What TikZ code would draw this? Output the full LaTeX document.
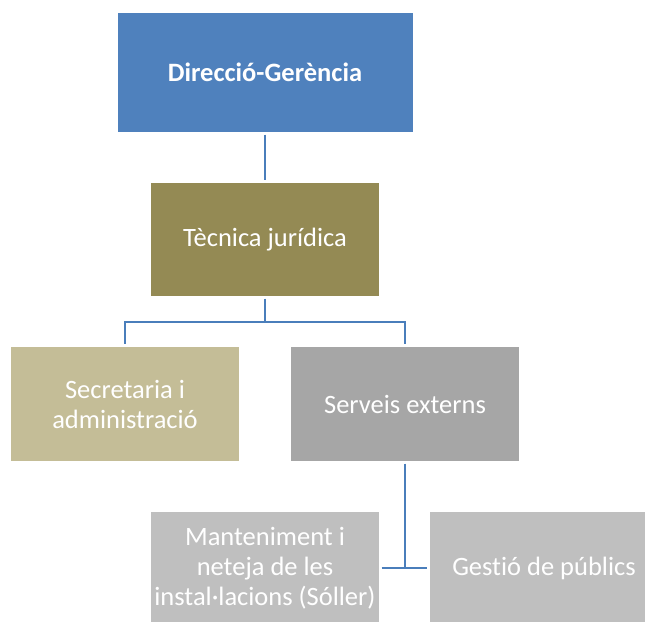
\documentclass[tikz,border=0pt]{standalone}
\usepackage{fontspec}
\setmainfont{Carlito}[Ligatures={NoCommon}]
\definecolor{dirblue}{HTML}{4F81BD}
\definecolor{tecolive}{HTML}{948A54}
\definecolor{sectan}{HTML}{C4BD97}
\definecolor{sergray}{HTML}{A6A6A6}
\definecolor{lowgray}{HTML}{BFBFBF}
\definecolor{linkblue}{HTML}{4A7EBB}
\begin{document}
\begin{tikzpicture}[x=1pt,y=-1pt,
		box/.style={rectangle,inner sep=0pt,minimum width=228pt,minimum height=113pt,text=white,align=center,font=\fontsize{26.5}{30}\selectfont},
		link/.style={draw=linkblue,line width=2.7pt,shorten <=2.5pt,shorten >=2.5pt}]
		\useasboundingbox (0,0) rectangle (645,621);
		\node[box,fill=dirblue,minimum width=295pt,minimum height=119pt,font=\fontsize{26.5}{30}\selectfont\bfseries] (dir) at (265,72.5) {Direcció-Gerència};
		\node[box,fill=tecolive] (tec) at (265,239.5) {Tècnica jurídica};
		\node[box,fill=sectan,minimum height=114pt] (sec) at (125,404) {Secretaria i\\administració};
		\node[box,fill=sergray,minimum height=114pt] (ser) at (405,404) {Serveis externs};
		\node[box,fill=lowgray] (man) at (265,568) {Manteniment i\\neteja de les\\instal·lacions (Sóller)};
		\node[box,fill=lowgray] (ges) at (544,568) {Gestió de públics};
		\coordinate (bus) at (265,322);
		\draw[link] (dir) -- (tec);
		\draw[link] (tec.south) -- (bus) -| (sec.north);
		\draw[link,shorten <=0pt] (bus) -| (ser.north);
		\draw[link,shorten >=0pt] (ser.south) -- (ser.south |- ges.west);
		\draw[link] (man.east) -- (ges.west);
	\end{tikzpicture}
\end{document}
